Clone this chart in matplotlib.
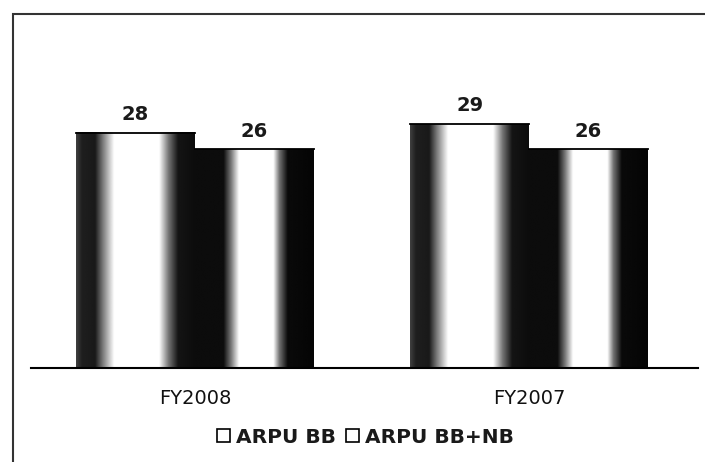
import numpy as np
import matplotlib.pyplot as plt
from matplotlib.patches import Rectangle

categories = ['FY2008', 'FY2007']
arpu_bb = [28, 29]
arpu_bb_nb = [26, 26]
series_names = ['ARPU BB', 'ARPU BB+NB']


def cylinder(stops, grays, n=300):
    # smooth shading across a bar, 0 = left edge, 1 = right edge
    t = np.linspace(0, 1, n)
    g = np.interp(t, stops, grays)
    return g[None, :]


shade_bb = cylinder([0.0, 0.05, 0.16, 0.22, 0.32, 0.70, 0.78, 0.86, 1.0],
                    [0.25, 0.12, 0.10, 0.45, 1.0, 1.0, 0.45, 0.08, 0.05])
shade_bbnb = cylinder([0.0, 0.24, 0.30, 0.37, 0.66, 0.71, 0.78, 1.0],
                      [0.05, 0.05, 0.45, 1.0, 1.0, 0.45, 0.04, 0.02])

fig = plt.figure(figsize=(7.05, 4.62), dpi=100)
ax = fig.add_axes([31 / 705, (462 - 368) / 462, (698 - 31) / 705, (368 - 40) / 462])

x = np.arange(len(categories))
w = 0.355
b1 = ax.bar(x - w / 2, arpu_bb, w, facecolor='none', edgecolor='none')
b2 = ax.bar(x + w / 2, arpu_bb_nb, w, facecolor='none', edgecolor='none')

for bars, shade in ((b1, shade_bb), (b2, shade_bbnb)):
    for p in bars:
        x0, y0 = p.get_x(), p.get_y()
        bw, bh = p.get_width(), p.get_height()
        ax.imshow(shade, cmap='gray', vmin=0, vmax=1, aspect='auto',
                  extent=(x0, x0 + bw, y0, y0 + bh), interpolation='bilinear', zorder=2)
        ax.plot([x0, x0 + bw], [y0 + bh, y0 + bh], color='black', lw=1.3, zorder=3)
        ax.text(x0 + bw / 2, y0 + bh + 1.05, f'{bh:.0f}', ha='center', va='bottom',
                fontsize=14, fontweight='bold', color='#1a1a1a')

ax.set_xlim(-0.49, 1.505)
ax.set_ylim(0, 39)
ax.set_xticks(x)
ax.set_xticklabels(categories, fontsize=14, color='#111111')
ax.tick_params(axis='x', length=0, pad=15)
ax.set_yticks([])
for s in ['left', 'right', 'top']:
    ax.spines[s].set_visible(False)
ax.spines['bottom'].set_linewidth(1.5)
ax.spines['bottom'].set_zorder(4)

# outer frame of the scanned chart
fig.add_artist(Rectangle((13 / 705, -0.1), 1.2, (462 - 14) / 462 + 0.1, transform=fig.transFigure,
                         fill=False, edgecolor='#333333', lw=1.5))

handles = [Rectangle((0, 0), 1, 1, facecolor='white', edgecolor='black', lw=1.2) for _ in series_names]
leg = fig.legend(handles, series_names, loc='center', bbox_to_anchor=(0.518, 0.054), ncol=2,
                 frameon=False, handlelength=0.65, handleheight=0.65, handletextpad=0.3,
                 columnspacing=0.5, prop={'weight': 'bold', 'size': 14.5})
for txt in leg.get_texts():
    txt.set_color('#1a1a1a')

fig.savefig('out.png', dpi=100)
